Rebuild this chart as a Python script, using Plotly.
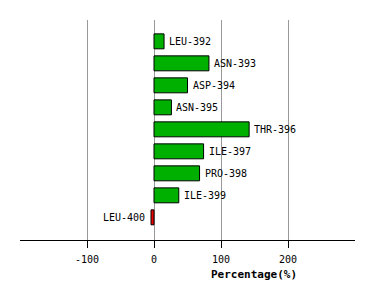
import plotly.graph_objects as go

residues = ["LEU-392", "ASN-393", "ASP-394", "ASN-395", "THR-396",
            "ILE-397", "PRO-398", "ILE-399", "LEU-400"]
percent = [15, 82, 50, 26, 142, 74, 68, 37, -4.5]
tick_vals = [-100, 0, 100, 200]
tick_text = ["-100", "0", "100", "200"]

pos = list(range(len(residues)))
colors = ["#00b000" if v >= 0 else "#ee0000" for v in percent]
font = "DejaVu Sans Mono"

fig = go.Figure()
fig.add_trace(go.Bar(
    x=percent, y=pos, orientation="h", width=0.68,
    marker=dict(color=colors, line=dict(color="black", width=1)),
    hoverinfo="skip",
))

annotations = []
for name, v, p in zip(residues, percent, pos):
    annotations.append(dict(
        text=name, x=v, y=p, xref="x", yref="y", showarrow=False,
        xanchor="left" if v >= 0 else "right", yanchor="middle",
        xshift=3 if v >= 0 else -4, yshift=0,
        font=dict(family=font, size=10, color="black")))
annotations.append(dict(text="<b>Percentage(%)</b>", xref="paper", yref="paper",
                        x=0.70, y=0, yshift=-34, xanchor="center", yanchor="middle",
                        showarrow=False,
                        font=dict(family=font, size=11, color="black")))

fig.update_layout(
    width=374, height=300,
    margin=dict(l=20, r=19, t=20, b=60),
    plot_bgcolor="white", paper_bgcolor="white",
    showlegend=False,
    xaxis=dict(range=[-200, 300], tickvals=tick_vals, ticktext=tick_text,
               showgrid=True, gridcolor="#999999", gridwidth=1,
               zeroline=False, showline=True, linecolor="black", linewidth=1,
               ticks="outside", ticklen=7, tickcolor="black",
               ticklabelstandoff=3,
               tickfont=dict(family=font, size=10, color="black")),
    yaxis=dict(range=[9.03, -0.97], showticklabels=False, showgrid=False,
               zeroline=False, showline=False),
    annotations=annotations,
)
fig.write_html("out.html")
